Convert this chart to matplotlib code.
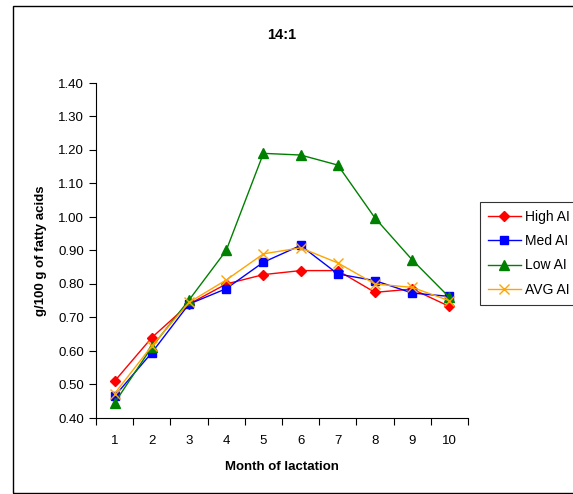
import numpy as np
import matplotlib.pyplot as plt
from matplotlib.patches import Rectangle

months = [1, 2, 3, 4, 5, 6, 7, 8, 9, 10]
high_ai = [0.51, 0.64, 0.74, 0.80, 0.828, 0.84, 0.84, 0.775, 0.785, 0.733]
med_ai = [0.465, 0.595, 0.74, 0.786, 0.865, 0.915, 0.83, 0.81, 0.773, 0.763]
low_ai = [0.445, 0.612, 0.752, 0.90, 1.19, 1.185, 1.155, 0.997, 0.872, 0.76]
avg_ai = [0.473, 0.615, 0.745, 0.812, 0.89, 0.908, 0.863, 0.80, 0.79, 0.75]
y_ticks = [0.40, 0.50, 0.60, 0.70, 0.80, 0.90, 1.00, 1.10, 1.20, 1.30, 1.40]

plt.rcParams['font.family'] = ['Liberation Sans', 'DejaVu Sans']


def main():
    fig = plt.figure(figsize=(5.73, 4.94), dpi=100)
    ax = fig.add_axes([96 / 573, 1 - 418 / 494, (468 - 96) / 573, (418 - 83) / 494])

    ax.plot(months, high_ai, color='#ff0000', marker='D', markersize=5.5, lw=1, label='High AI')
    ax.plot(months, med_ai, color='#0000ff', marker='s', markersize=6, lw=1, label='Med AI')
    ax.plot(months, low_ai, color='#008000', marker='^', markersize=6.5, lw=1, label='Low AI')
    ax.plot(months, avg_ai, color='#ffa500', marker='x', markersize=7, mew=1, lw=1, label='AVG AI')

    ax.set_xlim(0.5, 10.5)
    ax.set_ylim(0.40, 1.40)
    ax.set_yticks(y_ticks)
    ax.set_yticklabels(['%.2f' % v for v in y_ticks], fontsize=9.5)
    ax.set_xticks(np.arange(0.5, 11, 1))
    ax.set_xticklabels([])
    ax.set_xticks(months, minor=True)
    ax.set_xticklabels([str(m) for m in months], minor=True, fontsize=9.5)
    ax.tick_params(axis='x', which='minor', length=0, pad=12)
    ax.tick_params(axis='both', which='major', direction='out', length=5, width=0.8)
    ax.spines['top'].set_visible(False)
    ax.spines['right'].set_visible(False)

    ax.set_title('14:1', fontsize=10.5, fontweight='bold', pad=32)
    ax.set_xlabel('Month of lactation', fontsize=9.5, fontweight='bold', labelpad=10)
    ax.set_ylabel('g/100 g of fatty acids', fontsize=9.5, fontweight='bold', labelpad=8)

    leg = ax.legend(loc='upper left', bbox_to_anchor=(480 / 573, 1 - 202 / 494),
                    bbox_transform=fig.transFigure, fontsize=10, frameon=True,
                    fancybox=False, edgecolor='black', borderaxespad=0,
                    handlelength=2.4, handletextpad=0.3, labelspacing=0.75, borderpad=0.55)
    leg.get_frame().set_linewidth(0.8)

    fig.patches.append(Rectangle((13 / 573, 1 - 493 / 494), 1.0, 487 / 494,
                                 transform=fig.transFigure, fill=False,
                                 edgecolor='black', lw=1, figure=fig))

    fig.savefig('out.png', dpi=100)


if __name__ == "__main__":
    main()
